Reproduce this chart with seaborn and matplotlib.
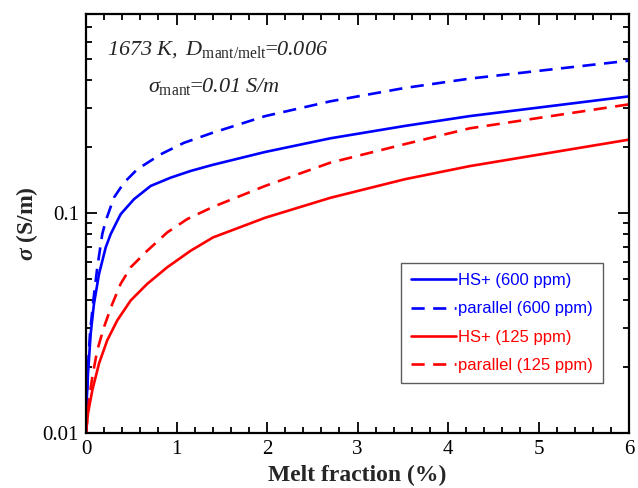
import matplotlib
matplotlib.use("Agg")
import matplotlib.pyplot as plt
import matplotlib.ticker as mticker
import numpy as np
import pandas as pd
import seaborn as sns

# Data (melt fraction %, conductivity S/m)
x_hs600 = [0.0, 0.008, 0.022, 0.052, 0.088, 0.144, 0.218, 0.273, 0.346, 0.383, 0.530, 0.715, 0.936, 1.157, 1.396, 1.98, 2.70, 3.52, 4.24, 6.0]
y_hs600 = [0.010, 0.0141, 0.0186, 0.0283, 0.0386, 0.0528, 0.0697, 0.0801, 0.0920, 0.0986, 0.1153, 0.1325, 0.1445, 0.155, 0.165, 0.189, 0.218, 0.248, 0.275, 0.338]

x_par600 = [0.0, 0.022, 0.044, 0.081, 0.125, 0.180, 0.218, 0.309, 0.420, 0.567, 0.825, 1.083, 1.396, 1.98, 2.70, 3.52, 4.24, 6.0]
y_par600 = [0.010, 0.0200, 0.0283, 0.0400, 0.0566, 0.0801, 0.0920, 0.1173, 0.1371, 0.1577, 0.1844, 0.208, 0.2308, 0.275, 0.321, 0.369, 0.407, 0.491]

x_hs125 = [0.0, 0.022, 0.070, 0.144, 0.235, 0.346, 0.494, 0.677, 0.898, 1.157, 1.403, 1.98, 2.70, 3.52, 4.24, 6.0]
y_hs125 = [0.010, 0.01228, 0.01566, 0.0207, 0.0264, 0.0325, 0.0400, 0.0476, 0.0566, 0.0673, 0.0773, 0.095, 0.117, 0.142, 0.163, 0.215]

x_par125 = [0.0, 0.033, 0.070, 0.125, 0.199, 0.291, 0.383, 0.494, 0.677, 0.898, 1.119, 1.403, 1.98, 2.70, 3.52, 4.24, 6.0]
y_par125 = [0.010, 0.0141, 0.0180, 0.0238, 0.0303, 0.0386, 0.0476, 0.0566, 0.0673, 0.0815, 0.0937, 0.1064, 0.1325, 0.169, 0.205, 0.242, 0.311]

labels = ["HS+ (600 ppm)", "parallel (600 ppm)", "HS+ (125 ppm)", "parallel (125 ppm)"]
xticks = [0, 1, 2, 3, 4, 5, 6]

sns.set_style("ticks")
plt.rcParams["font.family"] = ["Liberation Serif", "DejaVu Serif"]
plt.rcParams["mathtext.fontset"] = "custom"
plt.rcParams["mathtext.rm"] = "Liberation Serif:italic"
plt.rcParams["mathtext.it"] = "Liberation Serif:italic"
plt.rcParams["mathtext.sf"] = "Liberation Serif"
plt.rcParams["mathtext.bf"] = "Liberation Serif:italic:bold"

fig = plt.figure(figsize=(6.38, 4.88), dpi=100)
ax = fig.add_axes([86/638, 1-433/488, (629-86)/638, (433-14)/488])

blue = "#0000ff"
red = "#ff0000"
series = [
    (x_hs600, y_hs600, blue, False),
    (x_par600, y_par600, blue, True),
    (x_hs125, y_hs125, red, False),
    (x_par125, y_par125, red, True),
]
for (xs, ys, col, dashed), lab in zip(series, labels):
    df = pd.DataFrame({"x": xs, "y": ys})
    sns.lineplot(data=df, x="x", y="y", ax=ax, color=col, lw=1.9, label=lab,
                 sort=False, estimator=None)
    if dashed:
        ax.lines[-1].set_dashes((5.0, 3.2))

ax.set_yscale("log")
ax.set_xlim(0, 6)
ax.set_ylim(0.01, 0.8)
ax.set_xticks(xticks)
ax.set_xticklabels([str(t) for t in xticks])
ax.xaxis.set_minor_locator(mticker.MultipleLocator(0.2))
ax.yaxis.set_major_locator(mticker.LogLocator(base=10))
ax.yaxis.set_minor_locator(mticker.LogLocator(base=10, subs=np.arange(2, 10)))
ax.yaxis.set_minor_formatter(mticker.NullFormatter())
ax.yaxis.set_major_formatter(mticker.FuncFormatter(lambda v, p: {0.01: "0.01", 0.1: "0.1", 1: "1"}.get(round(v, 3), "")))

ax.tick_params(which="both", direction="in", top=True, right=True, width=1.3, labelsize=15, colors="black")
ax.tick_params(which="major", length=8, pad=5)
ax.tick_params(which="minor", length=4)
for s in ax.spines.values():
    s.set_linewidth(1.6)
    s.set_color("black")

ax.set_xlabel("Melt fraction (%)", fontsize=17, fontweight="bold", labelpad=4)
ax.set_ylabel(r"$\mathbf{\sigma}$ (S/m)", fontsize=17, fontweight="bold", labelpad=2)

ax.text(0.038, 0.915, r"$1673\ K,\ D_{\mathsf{mant/melt}}\!\!=\!\!0.006$",
        transform=ax.transAxes, fontsize=16, ha="left", va="center")
ax.text(0.114, 0.826, r"$\sigma_{\mathsf{mant}}\!\!=\!\!0.01\ S/m$",
        transform=ax.transAxes, fontsize=16, ha="left", va="center")

leg = ax.legend(loc="upper left", bbox_to_anchor=((401-86)/543, (433-263)/419),
                borderaxespad=0, frameon=True, fancybox=False, handlelength=2.7,
                handletextpad=0.15, labelspacing=0.8, borderpad=0.6,
                prop={"family": "Liberation Sans", "size": 12})
leg.get_frame().set_edgecolor("#333333")
leg.get_frame().set_linewidth(1.0)
for txt, col in zip(leg.get_texts(), [blue, blue, red, red]):
    txt.set_color(col)

fig.savefig("out.png", dpi=100)
